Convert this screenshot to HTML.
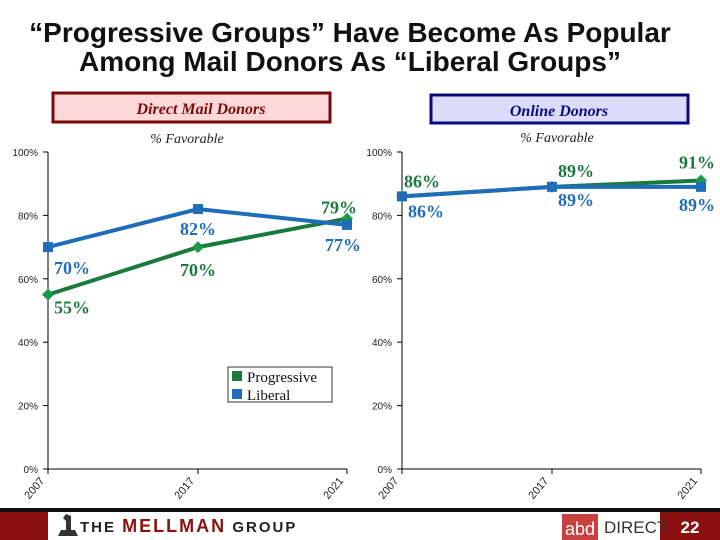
<!DOCTYPE html>
<html><head><meta charset="utf-8"><style>
body{margin:0;width:720px;height:540px;background:#fff;position:relative;overflow:hidden;font-family:"Liberation Sans",sans-serif}
.t{position:absolute;left:0;width:700px;text-align:center;font-weight:bold;font-size:28px;line-height:29px;color:#111}
</style></head><body>
<div class="t" style="top:18px">“Progressive Groups” Have Become As Popular<br>Among Mail Donors As “Liberal Groups”</div>
<svg id="c" width="720" height="540" style="position:absolute;left:0;top:0">
<rect x="53" y="93" width="277" height="29" fill="#fcd8d8" stroke="#7a0a0a" stroke-width="3"/>
<text x="201" y="114" text-anchor="middle" font-family="Liberation Serif" font-style="italic" font-weight="bold" font-size="16" fill="#7a0a0a">Direct Mail Donors</text>
<rect x="431" y="95" width="257" height="28" fill="#dcdcf8" stroke="#0a0a80" stroke-width="3"/>
<text x="559" y="116" text-anchor="middle" font-family="Liberation Serif" font-style="italic" font-weight="bold" font-size="16" fill="#0a0a80">Online Donors</text>
<text x="187" y="143" text-anchor="middle" font-family="Liberation Serif" font-style="italic" font-size="14" fill="#222">% Favorable</text>
<text x="557" y="142" text-anchor="middle" font-family="Liberation Serif" font-style="italic" font-size="14" fill="#222">% Favorable</text>
<rect x="0" y="508" width="720" height="4" fill="#111"/>
<rect x="0" y="512" width="48" height="28" fill="#8b1010"/>
<rect x="660" y="512" width="60" height="28" fill="#8b1010"/>
<text x="690" y="533" text-anchor="middle" font-weight="bold" font-size="17" fill="#fff">22</text>
<text x="80" y="532" font-weight="bold" font-size="15" fill="#222" letter-spacing="2">THE <tspan fill="#8b1010" font-size="18">MELLMAN</tspan> GROUP</text>
<path d="M58 536 h20 l-3 -6 h-4 l0 -14 l-5 -2 l-3 4 l3 3 l0 9 h-5 z" fill="#333"/>
<rect x="562" y="514" width="36" height="26" fill="#c84040"/>
<text x="580" y="535" text-anchor="middle" font-size="18" fill="#fff">abd</text>
<text x="604" y="533" font-size="17" fill="#333">DIRECT</text>
<rect x="228" y="367" width="104" height="35" fill="#fff" stroke="#333"/>
<rect x="232" y="371" width="10" height="10" fill="#1a7a3c"/>
<text x="247" y="382" font-family="Liberation Serif" font-size="15" fill="#111">Progressive</text>
<rect x="232" y="389" width="10" height="10" fill="#1f6db8"/>
<text x="247" y="400" font-family="Liberation Serif" font-size="15" fill="#111">Liberal</text>
</svg>
<script>
const years=["2007","2017","2021"];
const ticks=[0,20,40,60,80,100];
const mailProgressive=[55,70,79];
const mailLiberal=[70,82,77];
const onlineProgressive=[86,89,91];
const onlineLiberal=[86,89,89];
const G="#1a7a3c",B="#1f6db8";
const svg=document.getElementById('c');
const NS="http://www.w3.org/2000/svg";
function mk(t,a,p){const e=document.createElementNS(NS,t);for(const k in a)e.setAttribute(k,a[k]);(p||svg).appendChild(e);return e;}
const y0=469,yH=317;
function Y(v){return y0-v/100*yH;}
function panel(x0,w,prog,lib,name,labs){
  const xs=[x0,x0+150,x0+w];
  const g=mk('g',{});
  
  
  mk('line',{x1:x0,y1:Y(100),x2:x0,y2:y0,stroke:'#000'},g);
  mk('line',{x1:x0,y1:y0,x2:x0+w,y2:y0,stroke:'#000'},g);
  ticks.forEach(t=>{
    mk('line',{x1:x0-5,y1:Y(t),x2:x0,y2:Y(t),stroke:'#000'},g);
    const tx=mk('text',{x:x0-10,y:Y(t)+4,'text-anchor':'end','font-size':10,fill:'#222'},g);
    tx.textContent=t+'%';
    
    
  });
  years.forEach((yr,i)=>{
    mk('line',{x1:xs[i],y1:y0,x2:xs[i],y2:y0+5,stroke:'#000'},g);
    const tx=mk('text',{x:xs[i]-3,y:y0+12,'text-anchor':'end','font-size':11,fill:'#222',transform:`rotate(-50 ${xs[i]-3} ${y0+12})`},g);
    tx.textContent=yr;
    
    
  });
  const series=[[prog,G,'progressive'],[lib,B,'liberal']];
  series.forEach(([d,c,n])=>{
    const l=mk('polyline',{points:d.map((v,i)=>xs[i]+','+Y(v)).join(' '),fill:'none',stroke:c,'stroke-width':4},g);
    
    
    d.forEach((v,i)=>{
      let m;
      if(n==='liberal')m=mk('rect',{x:xs[i]-5,y:Y(v)-5,width:10,height:10,fill:c},g);
      else m=mk('path',{d:`M${xs[i]} ${Y(v)-6}l6 6l-6 6l-6 -6z`,fill:'#1a9a48'},g);
      
      
    });
  });
  labs.forEach(([s,i,dx,dy])=>{
    const d=s==='p'?prog:lib;
    const tx=mk('text',{x:xs[i]+dx,y:Y(d[i])+dy,'text-anchor':'middle','font-family':'Liberation Serif','font-weight':'bold','font-size':18,fill:s==='p'?G:B},g);
    tx.textContent=d[i]+'%';
    
    
  });
}
panel(48,299,mailProgressive,mailLiberal,'direct-mail-chart',[
 ['p',0,24,19],['l',0,24,27],['p',1,0,29],['l',1,0,26],['p',2,-8,-5],['l',2,-4,26]]);
panel(402,299,onlineProgressive,onlineLiberal,'online-chart',[
 ['p',0,20,-9],['l',0,24,21],['p',1,24,-10],['l',1,24,19],['p',2,-4,-12],['l',2,-4,24]]);
</script>
</body></html>
